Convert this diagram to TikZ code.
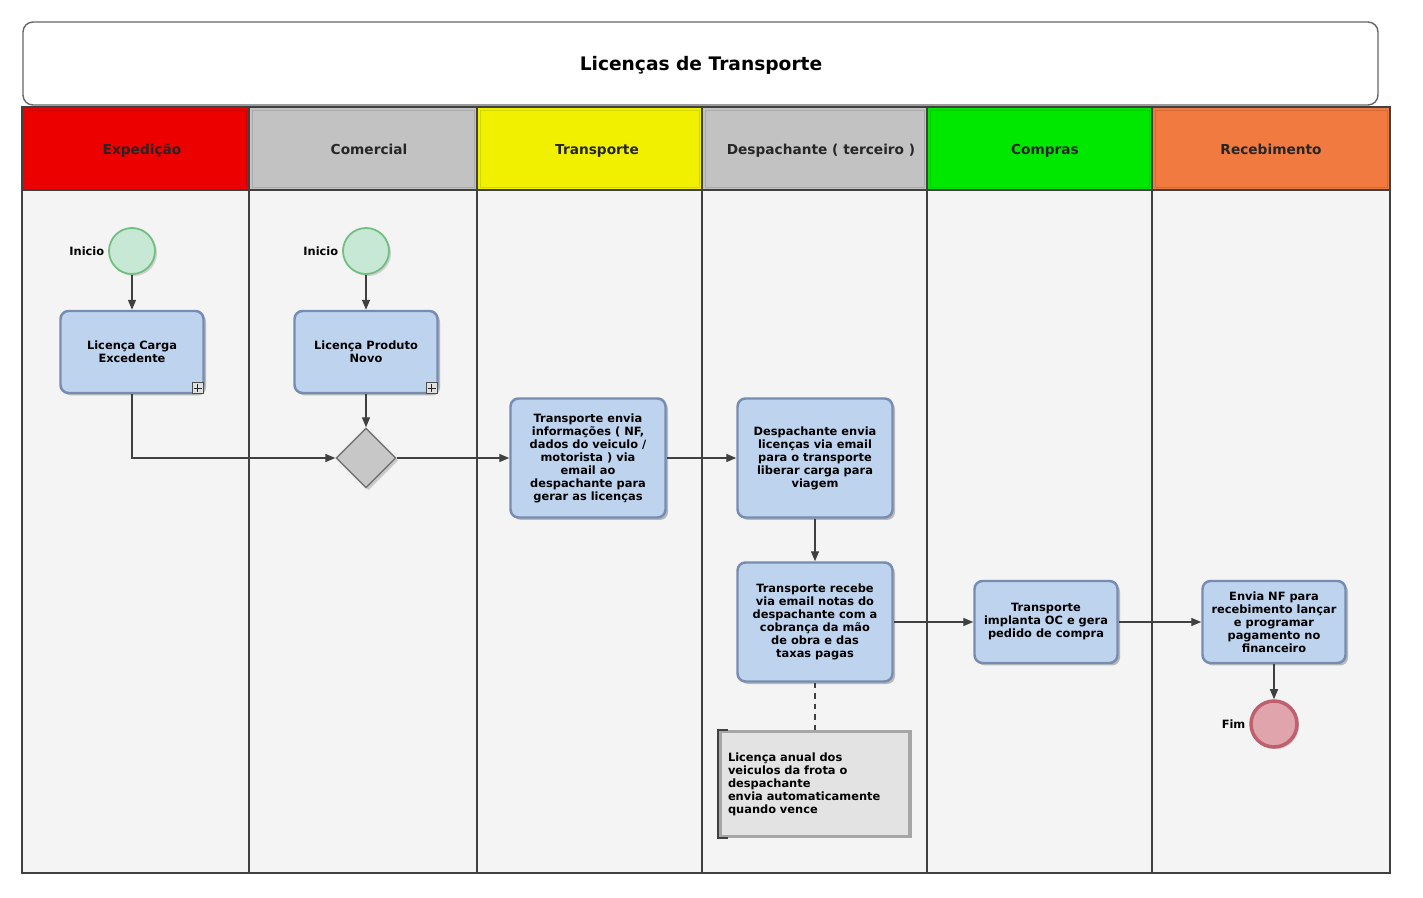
\documentclass[tikz,border=0pt]{standalone}
\usepackage{fontspec}
\setmainfont{DejaVu Sans}
\usepackage{tikz}
\usetikzlibrary{shapes.geometric, arrows.meta, positioning, shadows}
\definecolor{lanered}{RGB}{236,0,0}
\definecolor{lanegray}{RGB}{194,194,194}
\definecolor{laneyellow}{RGB}{240,240,0}
\definecolor{lanegreen}{RGB}{0,232,0}
\definecolor{laneorange}{RGB}{240,122,64}
\definecolor{bodygray}{RGB}{244,244,244}
\definecolor{taskblue}{RGB}{190,212,238}
\definecolor{taskline}{RGB}{118,140,176}
\definecolor{startfill}{RGB}{198,232,212}
\definecolor{startline}{RGB}{112,190,128}
\definecolor{endfill}{RGB}{224,164,172}
\definecolor{endline}{RGB}{190,96,110}
\definecolor{flowgray}{RGB}{64,64,64}
\tikzstyle{task} = [rectangle, rounded corners=1.6mm, minimum width=28.6mm, minimum height=16.4mm, align=center, draw=taskline, line width=1.4pt, fill=taskblue, font=\fontsize{6.5}{7.4}\selectfont\bfseries, drop shadow={shadow xshift=0.5mm, shadow yshift=-0.5mm, opacity=0.5}]
\tikzstyle{bigtask} = [task, minimum width=31mm, minimum height=23.8mm]
\tikzstyle{startev} = [circle, minimum size=9.2mm, inner sep=0pt, draw=startline, line width=1pt, fill=startfill, drop shadow={shadow xshift=0.4mm, shadow yshift=-0.4mm, opacity=0.3}]
\tikzstyle{endev} = [circle, minimum size=9.2mm, inner sep=0pt, draw=endline, line width=2pt, fill=endfill, drop shadow={shadow xshift=0.4mm, shadow yshift=-0.4mm, opacity=0.3}]
\tikzstyle{evlabel} = [font=\fontsize{6.5}{7.4}\selectfont\bfseries, inner sep=1pt]
\tikzstyle{gateway} = [diamond, minimum width=12mm, minimum height=12mm, inner sep=0pt, draw=black!55, line width=0.8pt, fill=black!22, drop shadow={shadow xshift=0.5mm, shadow yshift=-0.5mm, opacity=0.35}]
\tikzstyle{plusbox} = [rectangle, minimum size=2.2mm, inner sep=0pt, draw=black!70, fill=black!12, line width=0.4pt]
\tikzstyle{arrow} = [draw=flowgray, line width=0.8pt, -{Triangle[length=2mm, width=1.6mm]}]
\tikzstyle{headtext} = [font=\fontsize{7.8}{9}\selectfont\bfseries, text=black!85, text height=1.6ex, text depth=0.45ex]

\begin{document}
\begin{tikzpicture}[x=0.2mm, y=-0.2mm]
    \useasboundingbox (0,0) rectangle (1423,898);
    % title
    \draw[black!60, line width=0.8pt, fill=white, rounded corners=2mm] (23,22) rectangle (1378,105);
    \node[font=\fontsize{10.6}{12}\selectfont\bfseries] (title) at (701,65) {Licenças de Transporte};
    % lanes
    \fill[bodygray] (22,190) rectangle (1390,873);
    \foreach \xa/\xb/\xt/\col/\name in {22/249/142/lanered/Expedição, 249/477/369/lanegray/Comercial, 477/702/597/laneyellow/Transporte, 702/927/821/lanegray/Despachante ( terceiro ), 927/1152/1045/lanegreen/Compras, 1152/1390/1271/laneorange/Recebimento} {
        \draw[flowgray, line width=1.2pt, fill=\col] (\xa,107) rectangle (\xb,190);
        \draw[\col!88!black, line width=0.4pt] (\xa+3,110) rectangle (\xb-3,187);
        \node[headtext] (h\xa) at (\xt,149) {\name};
        \draw[flowgray, line width=0.9pt] (\xa,190) -- (\xa,873);
    }
    \draw[flowgray, line width=1.2pt] (22,107) rectangle (1390,873);

    % events, tasks
    \node[startev] (s1) at (132,251) {};
    \node[evlabel, left=1pt of s1] (s1l) {Inicio};
    \node[startev] (s2) at (366,251) {};
    \node[evlabel, left=1pt of s2] (s2l) {Inicio};
    \node[task] (t1) at (132,352) {Licença Carga\\Excedente};
    \node[task] (t2) at (366,352) {Licença Produto\\Novo};
    \node[gateway] (gw) at (366,458) {};
    \node[bigtask] (t3) at (588,458) {Transporte envia\\informações ( NF,\\dados do veiculo /\\motorista ) via\\email ao\\despachante para\\gerar as licenças};
    \node[bigtask] (t4) at (815,458) {Despachante envia\\licenças via email\\para o transporte\\liberar carga para\\viagem};
    \node[bigtask] (t5) at (815,622) {Transporte recebe\\via email notas do\\despachante com a\\cobrança da mão\\de obra e das\\taxas pagas};
    \node[task] (t6) at (1046,622) {Transporte\\implanta OC e gera\\pedido de compra};
    \node[task] (t7) at (1274,622) {Envia NF para\\recebimento lançar\\e programar\\pagamento no\\financeiro};
    \node[endev] (e1) at (1274,724) {};
    \node[evlabel, left=1pt of e1] (e1l) {Fim};
    \node[rectangle, minimum width=38mm, minimum height=21mm, text width=34.8mm, inner sep=1.6mm, align=left, draw=black!35, line width=2pt, fill=black!11, font=\fontsize{6.5}{7.4}\selectfont\bfseries] (note) at (815,784) {Licença anual dos\\veiculos da frota o\\despachante\\envia automaticamente\\quando vence};
    \draw[flowgray, line width=1.2pt] ([xshift=2mm]note.north west) -- (note.north west) -- (note.south west) -- ([xshift=2mm]note.south west);

    % sub-process markers
    \foreach \t in {t1,t2} {
        \node[plusbox] (\t p) at ([shift={(-7,-6)}]\t.south east) {};
        \draw[black!85, line width=0.5pt, shorten <=0.35mm, shorten >=0.35mm] (\t p.north) -- (\t p.south);
        \draw[black!85, line width=0.5pt, shorten <=0.35mm, shorten >=0.35mm] (\t p.west) -- (\t p.east);
    }

    % flows
    \draw[arrow] (s1) -- (t1);
    \draw[arrow] (s2) -- (t2);
    \draw[arrow] (t1.south) |- (gw.west);
    \draw[arrow] (t2) -- (gw);
    \draw[arrow] (gw) -- (t3);
    \draw[arrow] (t3) -- (t4);
    \draw[arrow] (t4) -- (t5);
    \draw[arrow] (t5) -- (t6);
    \draw[arrow] (t6) -- (t7);
    \draw[arrow] (t7) -- (e1);
    \draw[flowgray, line width=0.8pt, dashed] (t5) -- (note);
\end{tikzpicture}
\end{document}
